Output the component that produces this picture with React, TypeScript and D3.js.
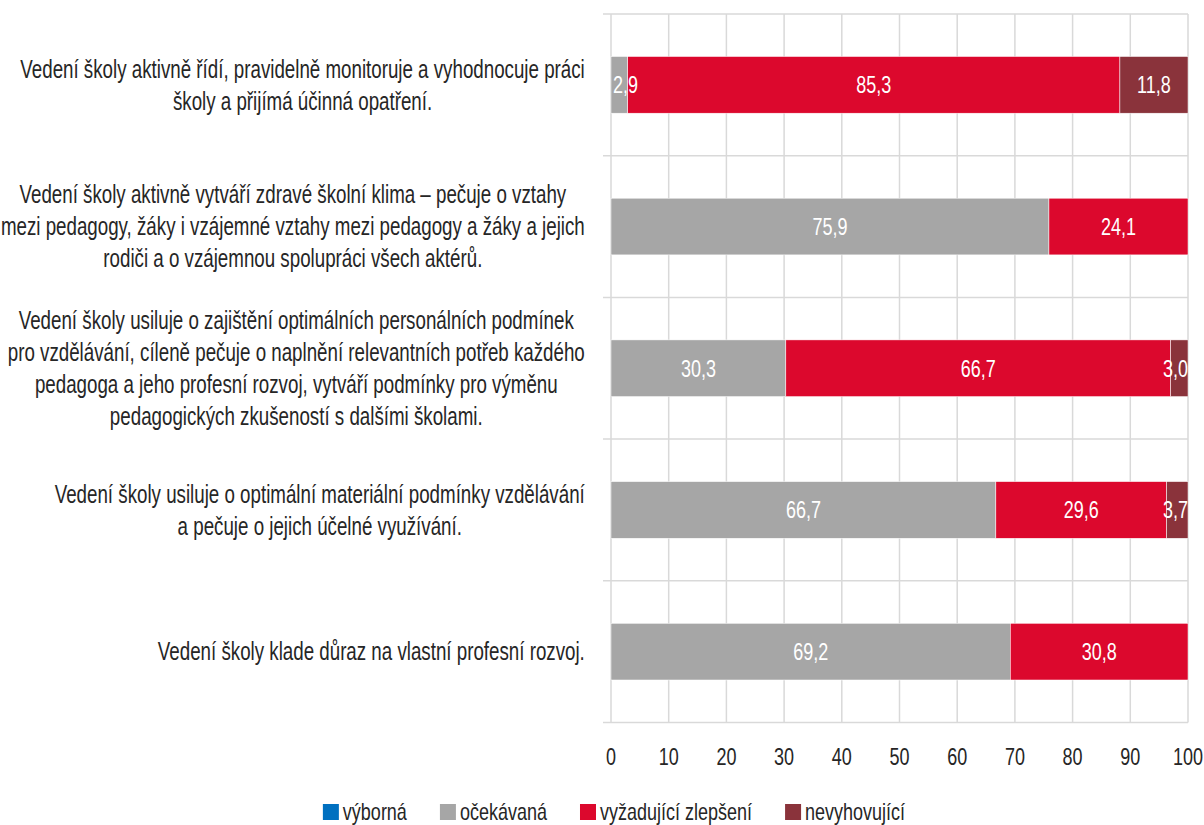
import React from "react";
import * as d3 from "d3";

const categories: string[][] = [
  ["Vedení školy aktivně řídí, pravidelně monitoruje a vyhodnocuje práci", "školy a přijímá účinná opatření."],
  ["Vedení školy aktivně vytváří zdravé školní klima – pečuje o vztahy", "mezi pedagogy, žáky i vzájemné vztahy mezi pedagogy a žáky a jejich", "rodiči a o vzájemnou spolupráci všech aktérů."],
  ["Vedení školy usiluje o zajištění optimálních personálních podmínek", "pro vzdělávání, cíleně pečuje o naplnění relevantních potřeb každého", "pedagoga a jeho profesní rozvoj, vytváří podmínky pro výměnu", "pedagogických zkušeností s dalšími školami."],
  ["Vedení školy usiluje o optimální materiální podmínky vzdělávání", "a pečuje o jejich účelné využívání."],
  ["Vedení školy klade důraz na vlastní profesní rozvoj."],
];

const seriesNames = ["výborná", "očekávaná", "vyžadující zlepšení", "nevyhovující"];
const seriesColors = ["#0070C0", "#A6A6A6", "#DC082D", "#8A333B"];

const vyborna = [0, 0, 0, 0, 0];
const ocekavana = [2.9, 75.9, 30.3, 66.7, 69.2];
const vyzadujici = [85.3, 24.1, 66.7, 29.6, 30.8];
const nevyhovujici = [11.8, 0, 3.0, 3.7, 0];

const xTicks = [0, 10, 20, 30, 40, 50, 60, 70, 80, 90, 100];

const FONT = "'Liberation Sans', Arial, sans-serif";
const SX = 0.75; // horizontal condensing to mimic a condensed face

function measure(text: string, size: number): number {
  const ns = "http://www.w3.org/2000/svg";
  const svg = document.createElementNS(ns, "svg");
  svg.setAttribute("style", "position:absolute;left:-9999px;top:0;visibility:hidden");
  const t = document.createElementNS(ns, "text");
  t.setAttribute("font-family", FONT);
  t.setAttribute("font-size", String(size));
  t.textContent = text;
  svg.appendChild(t);
  document.body.appendChild(svg);
  const w = (t as SVGTextElement).getComputedTextLength();
  document.body.removeChild(svg);
  return w * SX;
}

function CText(props: { x: number; y: number; size: number; fill: string; anchor?: string; children: any }) {
  return (
    <text
      transform={`translate(${props.x},${props.y}) scale(${SX},1)`}
      dy="0.35em"
      textAnchor={props.anchor || "middle"}
      fill={props.fill}
      fontSize={props.size}
    >
      {props.children}
    </text>
  );
}

export default function App() {
  const W = 1204, H = 825;
  const left = 611, right = 1188, top = 14, bottom = 722.5;

  const x = d3.scaleLinear().domain([0, 100]).range([left, right]);
  const idx = categories.map((_, i) => i);
  const y = d3.scaleBand<number>().domain(idx).range([top, bottom]).paddingInner(0.6).paddingOuter(0.3);
  const step = y.step();

  const rows = idx.map((i) => ({ i, v0: vyborna[i], v1: ocekavana[i], v2: vyzadujici[i], v3: nevyhovujici[i] }));
  const stack = d3.stack<any>().keys(["v0", "v1", "v2", "v3"])(rows);

  const labelSize = 25;
  const lineH = 32;
  const labelRight = 585;
  const textColor = "#262626";
  const valueSize = 24;

  const legendSize = 24;
  const legendItems = seriesNames.map((n) => ({ n, w: measure(n, legendSize) }));
  const sq = 16, gapSq = 4, gapItem = 33;
  const totalLegend = d3.sum(legendItems, (d) => sq + gapSq + d.w) + gapItem * (legendItems.length - 1);
  let lx = 614 - totalLegend / 2;
  const legendPos = legendItems.map((d) => {
    const p = lx;
    lx += sq + gapSq + d.w + gapItem;
    return p;
  });

  return (
    <svg width={W} height={H} style={{ position: "absolute", left: 0, top: 0, background: "#fff" }} fontFamily={FONT}>
      {xTicks.map((t) => (
        <line key={"g" + t} x1={x(t)} x2={x(t)} y1={top} y2={bottom} stroke="#D9D9D9" strokeWidth={1.5} />
      ))}
      {d3.range(categories.length + 1).map((k) => (
        <line key={"h" + k} x1={left - 8} x2={right} y1={top + k * step} y2={top + k * step} stroke="#D9D9D9" strokeWidth={1.5} />
      ))}
      {stack.map((s, si) => (
        <g key={"s" + si} fill={seriesColors[si]}>
          {s.map((d, di) =>
            d[1] - d[0] > 0 ? (
              <rect key={di} x={x(d[0])} y={y(di)!} width={x(d[1]) - x(d[0])} height={y.bandwidth()} stroke="#fff" strokeWidth={0.5} />
            ) : null
          )}
        </g>
      ))}
      {stack.map((s, si) => (
        <g key={"l" + si}>
          {s.map((d, di) => {
            if (d[1] - d[0] <= 0) return null;
            const label = d3.format(".1f")(d[1] - d[0]).replace(".", ",");
            const w = measure(label, valueSize);
            let cx = (x(d[0]) + x(d[1])) / 2;
            cx = Math.max(cx, left + w / 2 + 2);
            cx = Math.min(cx, right - w / 2);
            return (
              <CText key={di} x={cx} y={y(di)! + y.bandwidth() / 2} size={valueSize} fill="#fff">
                {label}
              </CText>
            );
          })}
        </g>
      ))}
      {categories.map((lines, i) => {
        const maxW = d3.max(lines, (l) => measure(l, labelSize)) || 0;
        const cx = labelRight - maxW / 2;
        const cy = y(i)! + y.bandwidth() / 2;
        const y0 = cy - ((lines.length - 1) * lineH) / 2;
        return (
          <g key={"c" + i}>
            {lines.map((l, li) => (
              <CText key={li} x={cx} y={y0 + li * lineH} size={labelSize} fill={textColor}>
                {l}
              </CText>
            ))}
          </g>
        );
      })}
      {xTicks.map((t) => (
        <CText key={"t" + t} x={x(t)} y={757} size={24} fill={textColor}>
          {t}
        </CText>
      ))}
      {legendItems.map((d, i) => (
        <g key={"lg" + i}>
          <rect x={legendPos[i]} y={812 - sq / 2} width={sq} height={sq} fill={seriesColors[i]} />
          <CText x={legendPos[i] + sq + gapSq} y={812} size={legendSize} fill={textColor} anchor="start">
            {d.n}
          </CText>
        </g>
      ))}
    </svg>
  );
}
